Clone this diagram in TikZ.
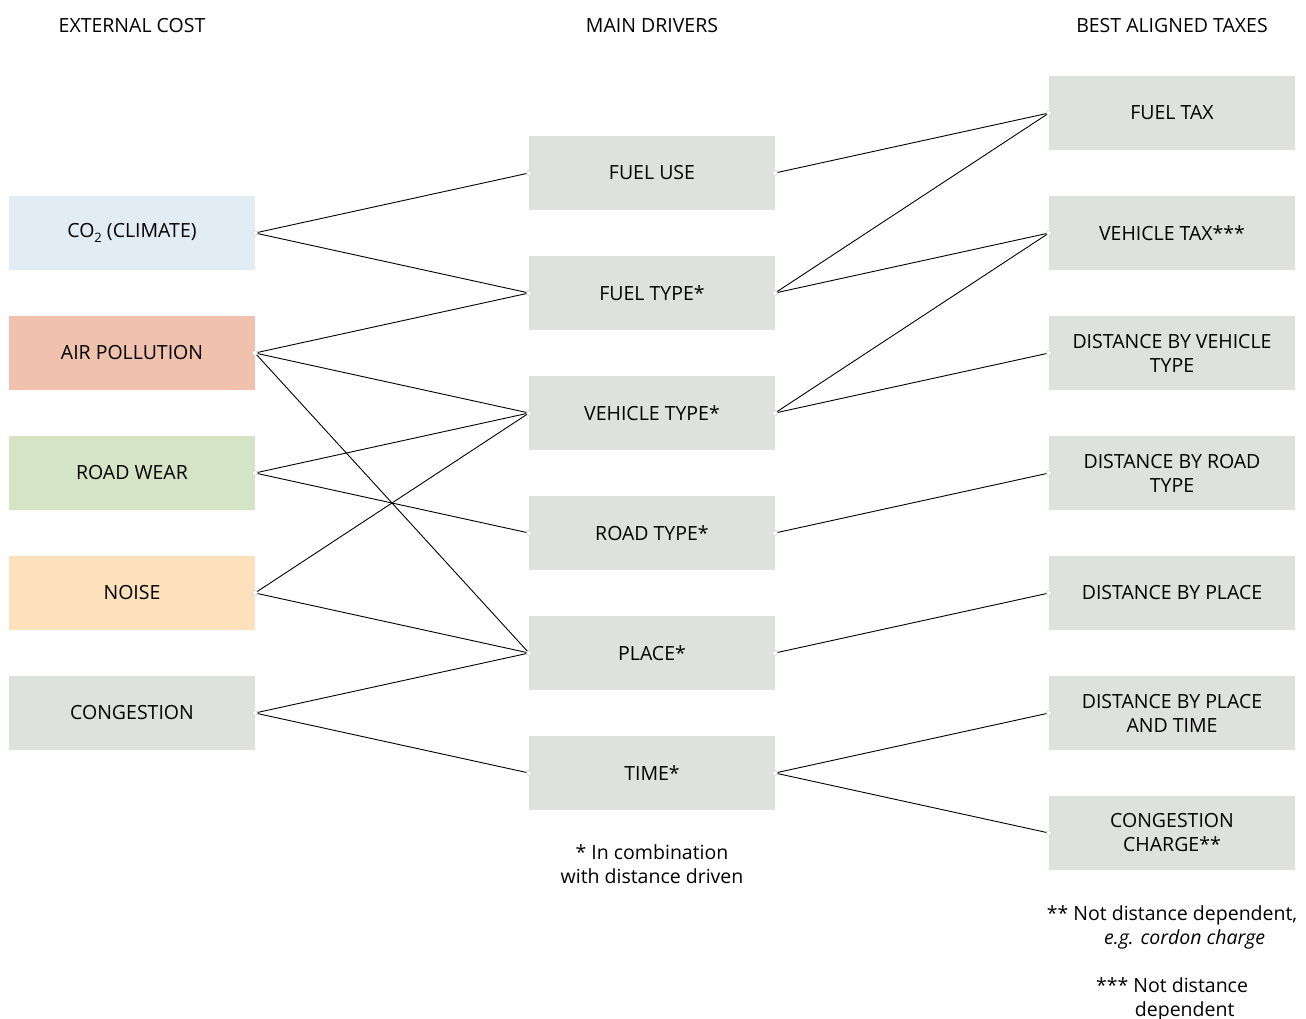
\documentclass[tikz,border=0pt]{standalone}
\usepackage{fontspec}
\setmainfont{Open Sans}
\usetikzlibrary{positioning}
\definecolor{climate}{RGB}{225, 236, 244}
\definecolor{air}{RGB}{240, 193, 172}
\definecolor{wear}{RGB}{212, 228, 196}
\definecolor{noise}{RGB}{253, 224, 188}
\definecolor{neutral}{RGB}{222, 225, 222}
\newcommand{\subtwo}{\raisebox{-0.55ex}{\fontsize{13}{13}\selectfont 2}}

\begin{document}
\begin{tikzpicture}[
    x=1pt, y=-1pt,
    font=\fontsize{19.5}{24}\selectfont,
    costbox/.style={
        rectangle, fill=#1, draw=none, outer sep=0pt,
        minimum width=246pt, minimum height=74pt,
        align=center, inner sep=4pt,
    },
    headline/.style={anchor=center},
    link/.style={line width=0.9pt, draw=black},
    dot/.style={circle, fill=white, draw=black!20, line width=0.5pt,
        inner sep=0pt, minimum size=5pt},
    footnote/.style={align=center},
    node distance=46pt,
]
\useasboundingbox (0,0) rectangle (1306,1019);

% =================================================
% Column headings
% =================================================
\node[headline] (hcost)  at (132,26)  {EXTERNAL COST};
\node[headline] (hdrive) at (652,26)  {MAIN DRIVERS};
\node[headline] (htax)   at (1172,26) {BEST ALIGNED TAXES};

% =================================================
% LEFT: External cost
% =================================================
\node[costbox=climate] (co2) at (132,233) {CO\subtwo{} (CLIMATE)};
\node[costbox=air,     below=of co2]  (air)  {AIR POLLUTION};
\node[costbox=wear,    below=of air]  (wear) {ROAD WEAR};
\node[costbox=noise,   below=of wear] (noise) {NOISE};
\node[costbox=neutral, below=of noise] (cong) {CONGESTION};

% =================================================
% MIDDLE: Main drivers
% =================================================
\node[costbox=neutral] (fuse) at (652,173) {FUEL USE};
\node[costbox=neutral, below=of fuse]  (ftype) {FUEL TYPE*};
\node[costbox=neutral, below=of ftype] (vtype) {VEHICLE TYPE*};
\node[costbox=neutral, below=of vtype] (rtype) {ROAD TYPE*};
\node[costbox=neutral, below=of rtype] (place) {PLACE*};
\node[costbox=neutral, below=of place] (time)  {TIME*};

% =================================================
% RIGHT: Best aligned taxes
% =================================================
\node[costbox=neutral] (fueltax) at (1172,113) {FUEL TAX};
\node[costbox=neutral, below=of fueltax] (vehtax)  {VEHICLE TAX***};
\node[costbox=neutral, below=of vehtax]  (dveh)    {DISTANCE BY VEHICLE\\TYPE};
\node[costbox=neutral, below=of dveh]    (droad)   {DISTANCE BY ROAD\\TYPE};
\node[costbox=neutral, below=of droad]   (dplace)  {DISTANCE BY PLACE};
\node[costbox=neutral, below=of dplace]  (dptime)  {DISTANCE BY PLACE\\AND TIME};
\node[costbox=neutral, below=of dptime]  (ccharge) {CONGESTION\\CHARGE**};

% =================================================
% Links: cost -> driver
% =================================================
\foreach \a/\b in {co2/fuse, co2/ftype,
                   air/ftype, air/vtype, air/place,
                   wear/vtype, wear/rtype,
                   noise/vtype, noise/place,
                   cong/place, cong/time}
    \draw[link] (\a.east) -- (\b.west);

% =================================================
% Links: driver -> tax
% =================================================
\foreach \a/\b in {fuse/fueltax,
                   ftype/fueltax, ftype/vehtax,
                   vtype/vehtax, vtype/dveh,
                   rtype/droad,
                   place/dplace,
                   time/dptime, time/ccharge}
    \draw[link] (\a.east) -- (\b.west);

% =================================================
% End dots
% =================================================
\foreach \n in {co2, air, wear, noise, cong, fuse, ftype, vtype, rtype, place, time}
    \node[dot] at (\n.east) {};
\foreach \n in {fuse, ftype, vtype, rtype, place, time,
                fueltax, vehtax, dveh, droad, dplace, dptime, ccharge}
    \node[dot] at (\n.west) {};

% =================================================
% Footnotes
% =================================================
\node[footnote] (note1) at (652,864) {* In combination\\with distance driven};
\node[footnote] (note2) at (1172,927)
    {** Not distance dependent,\\\hspace*{1.3em}\textit{e.g. cordon charge}};
\node[footnote] (note3) at (1172,999)
    {*** Not distance\\\hspace*{1.3em}dependent};

\end{tikzpicture}
\end{document}
